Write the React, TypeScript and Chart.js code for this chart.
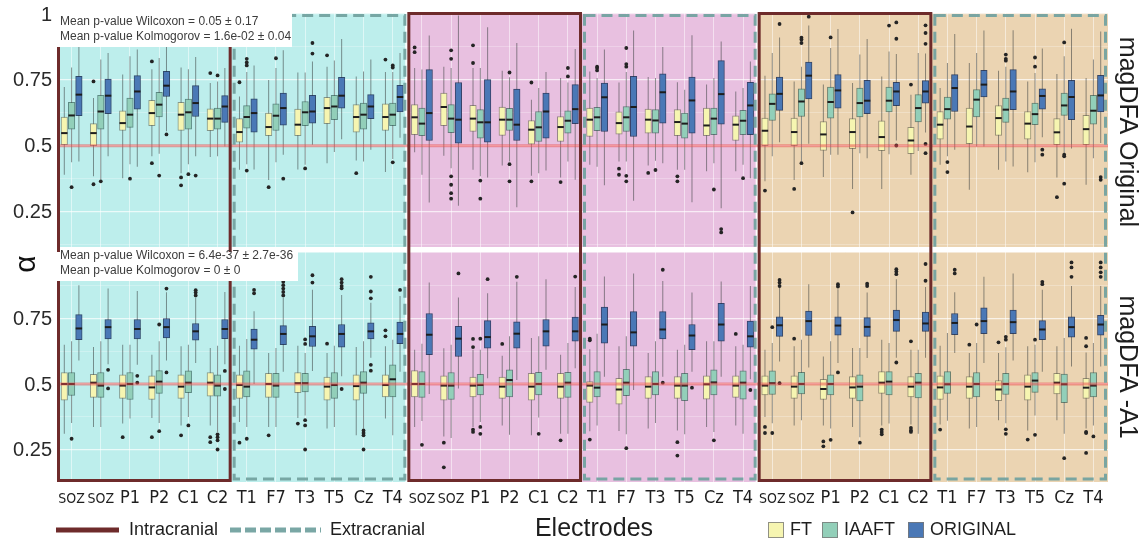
import { useEffect, useRef } from "react";
import { Chart, registerables } from "chart.js";

Chart.register(...registerables);

// ---- categories ----
const electrodeLabels = [
  "SOZ", "SOZ", "P1", "P2", "C1", "C2", "T1", "F7", "T3", "T5", "Cz", "T4",
  "SOZ", "SOZ", "P1", "P2", "C1", "C2", "T1", "F7", "T3", "T5", "Cz", "T4",
  "SOZ", "SOZ", "P1", "P2", "C1", "C2", "T1", "F7", "T3", "T5", "Cz", "T4",
];
const seriesNames = ["FT", "IAAFT", "ORIGINAL"];
const panelNames = ["magDFA Original", "magDFA -A1"];
const groupTypes = ["Intracranial", "Extracranial", "Intracranial", "Extracranial", "Intracranial", "Extracranial"];
const originalNotes = ["Mean p-value Wilcoxon = 0.05 \u00b1 0.17", "Mean p-value Kolmogorov = 1.6e-02 \u00b1 0.04"];
const a1Notes = ["Mean p-value Wilcoxon = 6.4e-37 \u00b1 2.7e-36", "Mean p-value Kolmogorov = 0 \u00b1 0"];

// ---- tick values ----
const originalTickLabels = [0.25, 0.5, 0.75, 1];
const a1TickLabels = [0.25, 0.5, 0.75];
const originalGrid = [0.125, 0.25, 0.375, 0.5, 0.625, 0.75, 0.875, 1];
const a1Grid = [0.25, 0.375, 0.5, 0.625, 0.75, 0.875, 1];

// ---- box statistics: [lower whisker, Q1, median, Q3, upper whisker] ----
const originalFT = [
  [0.39, 0.504, 0.548, 0.609, 0.723], [0.384, 0.5, 0.548, 0.584, 0.681], [0.377, 0.558, 0.586, 0.633, 0.77],
  [0.46, 0.576, 0.624, 0.672, 0.79], [0.396, 0.558, 0.618, 0.665, 0.797], [0.457, 0.557, 0.603, 0.64, 0.738],
  [0.409, 0.514, 0.552, 0.603, 0.687], [0.37, 0.538, 0.571, 0.624, 0.75], [0.41, 0.538, 0.58, 0.639, 0.778],
  [0.434, 0.584, 0.643, 0.684, 0.8], [0.444, 0.552, 0.609, 0.656, 0.763], [0.4, 0.558, 0.609, 0.659, 0.78],
  [0.475, 0.542, 0.608, 0.656, 0.795], [0.462, 0.576, 0.647, 0.7, 0.8], [0.409, 0.554, 0.603, 0.653, 0.795],
  [0.425, 0.539, 0.599, 0.647, 0.785], [0.386, 0.506, 0.561, 0.596, 0.675], [0.38, 0.516, 0.571, 0.611, 0.757],
  [0.428, 0.535, 0.599, 0.643, 0.782], [0.44, 0.544, 0.586, 0.629, 0.74], [0.425, 0.548, 0.599, 0.639, 0.761],
  [0.409, 0.538, 0.59, 0.637, 0.741], [0.403, 0.538, 0.577, 0.643, 0.732], [0.403, 0.52, 0.58, 0.614, 0.706],
  [0.365, 0.5, 0.557, 0.605, 0.766], [0.37, 0.5, 0.552, 0.605, 0.744], [0.381, 0.482, 0.543, 0.592, 0.732],
  [0.336, 0.489, 0.552, 0.603, 0.738], [0.336, 0.481, 0.533, 0.595, 0.763], [0.39, 0.47, 0.52, 0.57, 0.694],
  [0.428, 0.525, 0.58, 0.63, 0.719], [0.333, 0.508, 0.573, 0.643, 0.814], [0.409, 0.539, 0.605, 0.652, 0.785],
  [0.399, 0.525, 0.584, 0.63, 0.744], [0.38, 0.504, 0.551, 0.603, 0.772], [0.352, 0.504, 0.563, 0.615, 0.757],
];
const originalIAAFT = [
  [0.437, 0.563, 0.615, 0.665, 0.797], [0.371, 0.563, 0.63, 0.691, 0.827], [0.43, 0.57, 0.618, 0.681, 0.84],
  [0.47, 0.609, 0.656, 0.703, 0.833], [0.43, 0.563, 0.627, 0.677, 0.79], [0.46, 0.563, 0.603, 0.643, 0.744],
  [0.43, 0.567, 0.609, 0.652, 0.78], [0.437, 0.558, 0.614, 0.659, 0.795], [0.428, 0.576, 0.627, 0.668, 0.778],
  [0.476, 0.599, 0.649, 0.691, 0.824], [0.44, 0.563, 0.618, 0.662, 0.782], [0.45, 0.576, 0.618, 0.662, 0.78],
  [0.39, 0.538, 0.584, 0.643, 0.789], [0.415, 0.55, 0.603, 0.656, 0.795], [0.384, 0.529, 0.589, 0.637, 0.795],
  [0.44, 0.558, 0.599, 0.642, 0.76], [0.396, 0.516, 0.57, 0.63, 0.719], [0.44, 0.548, 0.595, 0.633, 0.74],
  [0.42, 0.557, 0.608, 0.646, 0.757], [0.44, 0.554, 0.608, 0.649, 0.78], [0.443, 0.548, 0.596, 0.637, 0.757],
  [0.409, 0.529, 0.584, 0.624, 0.713], [0.434, 0.542, 0.603, 0.643, 0.757], [0.428, 0.542, 0.595, 0.634, 0.719],
  [0.46, 0.596, 0.659, 0.697, 0.852], [0.44, 0.611, 0.668, 0.716, 0.8], [0.466, 0.605, 0.666, 0.723, 0.871],
  [0.472, 0.609, 0.662, 0.719, 0.846], [0.468, 0.628, 0.671, 0.723, 0.858], [0.48, 0.59, 0.643, 0.694, 0.852],
  [0.46, 0.601, 0.639, 0.685, 0.814], [0.497, 0.609, 0.675, 0.713, 0.852], [0.44, 0.589, 0.637, 0.681, 0.8],
  [0.437, 0.58, 0.62, 0.662, 0.776], [0.47, 0.615, 0.653, 0.7, 0.84], [0.453, 0.582, 0.633, 0.691, 0.827],
];
const originalORIG = [
  [0.44, 0.614, 0.694, 0.763, 0.877], [0.46, 0.622, 0.69, 0.753, 0.852], [0.42, 0.639, 0.706, 0.766, 0.865],
  [0.555, 0.687, 0.728, 0.782, 0.89], [0.46, 0.611, 0.662, 0.728, 0.837], [0.497, 0.589, 0.649, 0.69, 0.795],
  [0.41, 0.552, 0.624, 0.678, 0.805], [0.466, 0.578, 0.643, 0.7, 0.862], [0.504, 0.586, 0.63, 0.691, 0.82],
  [0.525, 0.643, 0.69, 0.76, 0.905], [0.485, 0.603, 0.649, 0.694, 0.827], [0.53, 0.628, 0.685, 0.729, 0.852],
  [0.285, 0.52, 0.624, 0.789, 0.918], [0.272, 0.51, 0.599, 0.74, 0.994], [0.38, 0.514, 0.589, 0.751, 0.95],
  [0.267, 0.52, 0.58, 0.715, 0.89], [0.406, 0.529, 0.63, 0.7, 0.78], [0.371, 0.584, 0.639, 0.732, 0.867],
  [0.35, 0.554, 0.684, 0.738, 0.865], [0.291, 0.535, 0.647, 0.763, 0.937], [0.434, 0.586, 0.703, 0.773, 0.875],
  [0.286, 0.548, 0.672, 0.761, 0.919], [0.263, 0.582, 0.696, 0.823, 0.896], [0.377, 0.542, 0.653, 0.741, 0.82],
  [0.513, 0.634, 0.697, 0.761, 0.911], [0.508, 0.678, 0.766, 0.818, 0.956], [0.466, 0.643, 0.71, 0.77, 0.943],
  [0.453, 0.622, 0.671, 0.748, 0.905], [0.52, 0.652, 0.706, 0.741, 0.848], [0.55, 0.662, 0.706, 0.747, 0.85],
  [0.485, 0.63, 0.719, 0.77, 0.924], [0.497, 0.685, 0.732, 0.786, 0.937], [0.421, 0.637, 0.706, 0.789, 0.938],
  [0.532, 0.639, 0.689, 0.716, 0.869], [0.49, 0.599, 0.685, 0.748, 0.944], [0.51, 0.628, 0.691, 0.767, 0.934],
];

const a1FT = [
  [0.31, 0.438, 0.5, 0.544, 0.65], [0.336, 0.449, 0.505, 0.537, 0.641], [0.349, 0.445, 0.494, 0.535, 0.65],
  [0.37, 0.441, 0.487, 0.531, 0.612], [0.342, 0.445, 0.49, 0.535, 0.644], [0.342, 0.454, 0.505, 0.544, 0.637],
  [0.355, 0.445, 0.496, 0.535, 0.646], [0.336, 0.449, 0.5, 0.541, 0.618], [0.37, 0.467, 0.503, 0.544, 0.646],
  [0.33, 0.438, 0.49, 0.526, 0.618], [0.304, 0.438, 0.492, 0.535, 0.641], [0.368, 0.451, 0.496, 0.535, 0.644],
  [0.336, 0.451, 0.5, 0.551, 0.631], [0.3, 0.438, 0.494, 0.531, 0.636], [0.336, 0.451, 0.494, 0.526, 0.631],
  [0.342, 0.445, 0.49, 0.526, 0.608], [0.304, 0.438, 0.49, 0.541, 0.676], [0.31, 0.445, 0.49, 0.541, 0.612],
  [0.32, 0.43, 0.494, 0.509, 0.633], [0.321, 0.423, 0.479, 0.522, 0.644], [0.33, 0.445, 0.49, 0.528, 0.618],
  [0.323, 0.445, 0.494, 0.528, 0.631], [0.336, 0.442, 0.499, 0.531, 0.663], [0.342, 0.449, 0.494, 0.531, 0.644],
  [0.374, 0.458, 0.494, 0.531, 0.631], [0.342, 0.445, 0.49, 0.531, 0.644], [0.342, 0.441, 0.481, 0.518, 0.605],
  [0.336, 0.445, 0.487, 0.528, 0.637], [0.342, 0.464, 0.505, 0.547, 0.669], [0.345, 0.451, 0.49, 0.528, 0.631],
  [0.345, 0.441, 0.487, 0.531, 0.646], [0.33, 0.445, 0.49, 0.528, 0.618], [0.362, 0.436, 0.479, 0.513, 0.618],
  [0.323, 0.438, 0.49, 0.535, 0.644], [0.362, 0.462, 0.505, 0.541, 0.644], [0.33, 0.445, 0.486, 0.522, 0.62],
];
const a1IAAFT = [
  [0.351, 0.456, 0.5, 0.544, 0.663], [0.336, 0.449, 0.494, 0.544, 0.663], [0.368, 0.441, 0.5, 0.544, 0.65],
  [0.351, 0.464, 0.509, 0.551, 0.663], [0.374, 0.467, 0.505, 0.55, 0.65], [0.317, 0.454, 0.494, 0.535, 0.646],
  [0.336, 0.451, 0.49, 0.55, 0.672], [0.336, 0.449, 0.494, 0.541, 0.637], [0.38, 0.47, 0.503, 0.541, 0.618],
  [0.336, 0.445, 0.496, 0.544, 0.646], [0.33, 0.464, 0.505, 0.547, 0.663], [0.304, 0.451, 0.518, 0.573, 0.669],
  [0.359, 0.449, 0.5, 0.547, 0.654], [0.294, 0.441, 0.494, 0.544, 0.65], [0.355, 0.458, 0.496, 0.537, 0.631],
  [0.306, 0.451, 0.515, 0.554, 0.682], [0.372, 0.458, 0.5, 0.545, 0.682], [0.31, 0.449, 0.505, 0.545, 0.656],
  [0.342, 0.451, 0.486, 0.547, 0.692], [0.308, 0.455, 0.505, 0.556, 0.682], [0.351, 0.458, 0.5, 0.547, 0.663],
  [0.308, 0.436, 0.494, 0.541, 0.65], [0.317, 0.458, 0.506, 0.554, 0.663], [0.31, 0.442, 0.505, 0.55, 0.65],
  [0.35, 0.46, 0.503, 0.55, 0.656], [0.362, 0.462, 0.5, 0.545, 0.669], [0.33, 0.458, 0.5, 0.535, 0.663],
  [0.297, 0.435, 0.49, 0.535, 0.637], [0.349, 0.458, 0.509, 0.547, 0.656], [0.31, 0.447, 0.505, 0.541, 0.631],
  [0.36, 0.464, 0.499, 0.547, 0.695], [0.336, 0.451, 0.5, 0.544, 0.656], [0.35, 0.46, 0.5, 0.541, 0.64],
  [0.38, 0.468, 0.513, 0.544, 0.65], [0.31, 0.429, 0.499, 0.538, 0.676], [0.342, 0.451, 0.494, 0.544, 0.656],
];
const a1ORIG = [
  [0.59, 0.669, 0.712, 0.765, 0.877], [0.575, 0.672, 0.717, 0.746, 0.864], [0.573, 0.672, 0.71, 0.746, 0.855],
  [0.59, 0.676, 0.717, 0.75, 0.85], [0.58, 0.667, 0.701, 0.731, 0.83], [0.575, 0.673, 0.71, 0.746, 0.851],
  [0.5, 0.633, 0.669, 0.71, 0.778], [0.547, 0.65, 0.691, 0.723, 0.83], [0.55, 0.643, 0.682, 0.72, 0.86],
  [0.53, 0.641, 0.691, 0.727, 0.84], [0.6, 0.672, 0.701, 0.733, 0.81], [0.547, 0.654, 0.691, 0.736, 0.836],
  [0.462, 0.612, 0.688, 0.769, 0.887], [0.483, 0.605, 0.673, 0.72, 0.83], [0.522, 0.637, 0.679, 0.742, 0.846],
  [0.515, 0.637, 0.692, 0.737, 0.89], [0.554, 0.644, 0.701, 0.746, 0.9], [0.56, 0.663, 0.701, 0.755, 0.87],
  [0.528, 0.656, 0.727, 0.794, 0.91], [0.477, 0.644, 0.697, 0.776, 0.922], [0.528, 0.672, 0.708, 0.776, 0.893],
  [0.547, 0.631, 0.685, 0.727, 0.849], [0.528, 0.663, 0.727, 0.808, 0.891], [0.518, 0.641, 0.682, 0.74, 0.874],
  [0.586, 0.682, 0.724, 0.756, 0.868], [0.563, 0.685, 0.74, 0.778, 0.881], [0.58, 0.686, 0.723, 0.756, 0.862],
  [0.599, 0.682, 0.718, 0.753, 0.849], [0.6, 0.701, 0.744, 0.782, 0.9], [0.6, 0.701, 0.731, 0.774, 0.87],
  [0.618, 0.688, 0.733, 0.769, 0.85], [0.58, 0.692, 0.74, 0.791, 0.909], [0.59, 0.692, 0.736, 0.782, 0.922],
  [0.547, 0.669, 0.708, 0.742, 0.86], [0.567, 0.679, 0.717, 0.756, 0.874], [0.567, 0.686, 0.727, 0.762, 0.874],
];

// ---- outliers per electrode ----
const originalFTOut = [
  [], [0.744, 0.354], [], [0.82, 0.434], [0.38, 0.35], [0.776],
  [0.741], [0.343], [], [0.843], [0.396], [0.827],
  [0.873, 0.855], [], [0.881, 0.814], [], [0.74, 0.365], [0.362],
  [], [0.413, 0.39], [0.397], [0.384, 0.365], [], [],
  [0.33], [0.336], [], [0.247], [], [0.732],
  [], [], [], [], [0.305], [],
];
const originalIAAFTOut = [
  [0.343], [0.365], [0.375], [0.387], [0.392], [0.767],
  [0.83, 0.816, 0.805, 0.406], [0.832], [0.414], [], [], [0.805, 0.797, 0.437],
  [], [0.862, 0.83, 0.384, 0.352, 0.32, 0.299], [0.368, 0.299], [0.778, 0.43, 0.365], [], [0.795, 0.763],
  [0.8, 0.795, 0.786], [0.871, 0.81, 0.8, 0.386, 0.365], [0.408], [], [0.334], [0.377],
  [], [0.91, 0.903, 0.89, 0.434], [0.911], [], [0.956], [],
  [0.438, 0.4], [], [0.846, 0.83, 0.823], [0.835, 0.8], [0.892, 0.466, 0.46, 0.356], [],
];
const originalORIGOut = [
  [], [], [], [0.543], [0.387], [],
  [], [0.375], [0.89, 0.85], [], [], [],
  [], [], [], [], [], [],
  [], [], [], [], [0.184, 0.171], [],
  [0.962], [0.99], [], [], [0.968, 0.906, 0.501], [0.957, 0.928, 0.887, 0.507, 0.472],
  [], [], [], [0.485, 0.466], [], [0.381, 0.371],
];
const a1FTOut = [
  [], [], [0.297], [0.297], [0.304], [0.297, 0.278],
  [0.276], [0.304], [0.349], [0.654], [], [0.705, 0.682],
  [], [0.276, 0.182], [0.672, 0.641, 0.326, 0.317], [0.653], [], [0.285],
  [0.673, 0.667, 0.288], [], [], [0.278, 0.227], [], [0.691],
  [0.336, 0.313], [0.673], [0.281, 0.262], [], [0.326, 0.317, 0.308], [0.663, 0.332, 0.323, 0.317],
  [0.326], [0.65], [0.659], [0.288], [], [0.676, 0.644, 0.317, 0.313, 0.237],
];
const a1IAAFTOut = [
  [0.291], [], [], [0.727, 0.32], [0.342], [0.308, 0.297, 0.285, 0.25],
  [0.291], [], [0.67, 0.653, 0.362, 0.342, 0.25], [], [0.323, 0.313, 0.304, 0.25], [],
  [0.268], [], [0.673, 0.336, 0.31], [], [0.31], [],
  [], [0.255], [], [], [0.285], [],
  [0.717, 0.313], [], [0.287], [0.276], [], [],
  [], [0.727], [0.68, 0.669, 0.327, 0.31], [0.669, 0.306], [0.217], [0.3],
];
const a1ORIGOut = [
  [], [0.554, 0.483], [0.531, 0.505], [0.864, 0.544], [0.858, 0.849, 0.838], [0.55, 0.481],
  [0.859, 0.846], [0.89, 0.877, 0.864, 0.851, 0.838], [0.915, 0.887], [0.9, 0.887, 0.874, 0.865, 0.481], [0.909, 0.853, 0.827, 0.573, 0.551], [0.859],
  [], [0.922], [0.9], [0.909], [], [0.91],
  [], [], [0.936, 0.505], [0.486], [], [0.477],
  [0.897, 0.887, 0.874, 0.503], [], [0.881, 0.872, 0.544], [0.883, 0.874], [0.938, 0.929, 0.919, 0.582], [0.958, 0.894],
  [0.936, 0.922], [], [], [0.89, 0.881], [0.964, 0.945, 0.909], [0.964, 0.945, 0.926, 0.909],
];

// ---- styling ----
const SANS = '"Liberation Sans", Arial, Helvetica, sans-serif';
const NARROW = '"Liberation Sans Narrow", "Arial Narrow", "DejaVu Sans Condensed", "Liberation Sans", sans-serif';
const BLOCK_FILLS = ["#bdeeec", "#e8c0e0", "#ebd4b2"];
const SERIES_FILLS = ["#f6f5b1", "#92cfb9", "#4a78b6"];
const SERIES_EDGES = ["rgba(95,95,75,0.6)", "rgba(40,85,75,0.65)", "rgba(25,45,85,0.85)"];
const WHISKER = "rgba(55,60,60,0.55)";
const INTRA_COLOR = "#6e2b2b";
const EXTRA_COLOR = "rgba(115,162,160,0.95)";
const REF_LINE = "rgba(236,72,72,0.5)";
const SHIFT = 0.25; // horizontal offset of each series within an electrode, in category units

function panelDatasets(axis: string, boxes: number[][][], outliers: number[][][]) {
  const sets: any[] = [];
  boxes.forEach((stats, k) => {
    const shift = (k - 1) * SHIFT;
    sets.push({
      type: "bar", label: seriesNames[k], xAxisID: "xl", yAxisID: axis, grouped: false,
      data: stats.map((b, i) => ({ x: i + shift, y: [b[1], b[3]] })),
      backgroundColor: SERIES_FILLS[k], borderColor: SERIES_EDGES[k], borderWidth: 1, borderSkipped: false,
      barThickness: 6.5, order: 2,
    });
    sets.push({
      type: "bar", label: seriesNames[k] + " range", xAxisID: "xl", yAxisID: axis, grouped: false,
      data: stats.map((b, i) => ({ x: i + shift, y: [b[0], b[4]] })),
      backgroundColor: WHISKER, borderWidth: 0, barThickness: 1, inflateAmount: 0, order: 3,
    });
    sets.push({
      type: "scatter", label: seriesNames[k] + " median", xAxisID: "xl", yAxisID: axis,
      data: stats.map((b, i) => ({ x: i + shift, y: b[2] })),
      pointStyle: "line", pointRadius: 3.2, pointBorderWidth: 2, pointBorderColor: "#1d1d1d", order: 1,
    });
    sets.push({
      type: "scatter", label: seriesNames[k] + " outliers", xAxisID: "xl", yAxisID: axis,
      data: outliers[k].flatMap((vals, i) => vals.map((v) => ({ x: i + shift, y: v }))),
      pointStyle: "circle", pointRadius: 1.9, pointBorderWidth: 0, pointBackgroundColor: "#242424", order: 0,
    });
  });
  return sets;
}

function panelAxis(min: number, max: number, weight: number, gridValues: number[], labelled: number[]) {
  return {
    type: "linear", position: "left", stack: "panels", stackWeight: weight, stacked: false,
    min, max, beginAtZero: false,
    afterBuildTicks: (s: any) => { s.ticks = gridValues.map((v) => ({ value: v })); },
    afterFit: (s: any) => { s.width = 57; },
    border: { display: false },
    grid: {
      drawTicks: false,
      color: (c: any) => (labelled.includes(c.tick.value) || c.tick.value === 1 ? "rgba(255,255,255,0.7)" : "rgba(255,255,255,0.38)"),
      lineWidth: (c: any) => (labelled.includes(c.tick.value) ? 1.2 : 0.7),
    },
    ticks: { display: false },
  };
}

const panelDecor = {
  id: "panelDecor",
  beforeDraw(chart: any) {
    const { ctx } = chart;
    const xl = chart.scales.xl;
    const panels = [chart.scales.yOrig, chart.scales.yA1];
    ctx.save();
    panels.forEach((s: any, p: number) => {
      const top = p === 0 ? s.top + 1 : s.top + 4;
      const bottom = p === 0 ? s.bottom - 1 : s.bottom;
      BLOCK_FILLS.forEach((fill, b) => {
        const left = xl.getPixelForValue(12 * b - 0.5) + (b > 0 ? 1.5 : 0);
        const right = xl.getPixelForValue(12 * b + 11.5) - (b < 2 ? 2 : 0);
        ctx.fillStyle = fill;
        ctx.fillRect(left, top, right - left, bottom - top);
      });
    });
    ctx.restore();
  },
  afterDatasetsDraw(chart: any) {
    const { ctx, chartArea } = chart;
    const xl = chart.scales.xl;
    const panels = [chart.scales.yOrig, chart.scales.yA1];
    ctx.save();
    // alpha = 0.5 reference line in both panels
    ctx.strokeStyle = REF_LINE;
    ctx.lineWidth = 3;
    panels.forEach((s: any) => {
      const y = s.getPixelForValue(0.5);
      ctx.beginPath();
      ctx.moveTo(chartArea.left, y);
      ctx.lineTo(chartArea.right, y);
      ctx.stroke();
    });
    // electrode-group frames spanning both panels
    groupTypes.forEach((kind, g) => {
      const x0 = xl.getPixelForValue(6 * g - 0.5);
      const x1 = xl.getPixelForValue(6 * g + 5.5);
      ctx.lineWidth = 3;
      if (kind === "Intracranial") {
        ctx.setLineDash([]);
        ctx.strokeStyle = INTRA_COLOR;
        ctx.strokeRect(x0 + 1.5, chartArea.top + 1.5, x1 - x0 - 3.5, chartArea.bottom - chartArea.top - 3);
      } else {
        ctx.setLineDash([11, 6]);
        ctx.strokeStyle = EXTRA_COLOR;
        ctx.strokeRect(x0 + 2, chartArea.top + 3.5, x1 - x0 - 4.5, chartArea.bottom - chartArea.top - 6.5);
      }
    });
    ctx.setLineDash([]);
    // test statistics boxes
    const notes = [
      { lines: originalNotes, top: panels[0].top - 12, bottom: panels[0].top + 35, width: 235, first: panels[0].top + 10 },
      { lines: a1Notes, top: panels[1].top + 4, bottom: panels[1].top + 33, width: 241, first: panels[1].top + 8 },
    ];
    notes.forEach((n) => {
      ctx.fillStyle = "#ffffff";
      ctx.fillRect(chartArea.left, n.top, n.width, n.bottom - n.top);
      ctx.fillStyle = "#3c3c3c";
      ctx.font = `12px ${SANS}`;
      ctx.textAlign = "left";
      ctx.textBaseline = "middle";
      n.lines.forEach((t, i) => ctx.fillText(t, chartArea.left + 3, n.first + i * 15));
    });
    ctx.restore();
  },
  afterDraw(chart: any) {
    const { ctx, chartArea } = chart;
    const xl = chart.scales.xl;
    const panels = [chart.scales.yOrig, chart.scales.yA1];
    ctx.save();
    // y tick labels
    ctx.fillStyle = "#2a2a2a";
    ctx.font = `20px ${SANS}`;
    ctx.textAlign = "right";
    ctx.textBaseline = "middle";
    [originalTickLabels, a1TickLabels].forEach((vals, p) => {
      vals.forEach((v) => ctx.fillText(String(v), chartArea.left - 5, panels[p].getPixelForValue(v) + 1));
    });
    // electrode labels
    ctx.fillStyle = "#1e1e1e";
    ctx.textAlign = "center";
    ctx.textBaseline = "alphabetic";
    electrodeLabels.forEach((lab, i) => {
      ctx.font = lab === "SOZ" ? `14px ${NARROW}` : `18px ${NARROW}`;
      ctx.fillText(lab, xl.getPixelForValue(i), chartArea.bottom + 21);
    });
    // y-axis title
    ctx.save();
    ctx.translate(27, (chartArea.top + chartArea.bottom) / 2 + 17);
    ctx.rotate(-Math.PI / 2);
    ctx.font = `30px ${SANS}`;
    ctx.textAlign = "center";
    ctx.textBaseline = "middle";
    ctx.fillStyle = "#111";
    ctx.fillText("\u03b1", 0, 0);
    ctx.restore();
    // panel strip titles
    panelNames.forEach((name, p) => {
      const s = panels[p];
      ctx.save();
      ctx.translate(chartArea.right + 19, (s.top + s.bottom) / 2 + 2);
      ctx.rotate(Math.PI / 2);
      ctx.font = `25px ${SANS}`;
      ctx.textAlign = "center";
      ctx.textBaseline = "middle";
      ctx.fillStyle = "#1e1e1e";
      ctx.fillText(name, 0, 0);
      ctx.restore();
    });
    // bottom legend
    const ly = chartArea.bottom + 48;
    ctx.lineWidth = 5;
    ctx.strokeStyle = INTRA_COLOR;
    ctx.beginPath();
    ctx.moveTo(56, ly);
    ctx.lineTo(119, ly);
    ctx.stroke();
    ctx.setLineDash([11, 4]);
    ctx.strokeStyle = EXTRA_COLOR;
    ctx.beginPath();
    ctx.moveTo(230, ly);
    ctx.lineTo(321, ly);
    ctx.stroke();
    ctx.setLineDash([]);
    ctx.fillStyle = "#1e1e1e";
    ctx.textAlign = "left";
    ctx.textBaseline = "middle";
    ctx.font = `18px ${SANS}`;
    ctx.fillText(groupTypes[0], 129, ly);
    ctx.fillText(groupTypes[1], 330, ly);
    ctx.font = `25px ${SANS}`;
    ctx.textAlign = "center";
    ctx.fillText("Electrodes", 594, ly - 1);
    ctx.textAlign = "left";
    ctx.font = `18px ${SANS}`;
    const swatchX = [768, 822, 908];
    seriesNames.forEach((name, k) => {
      ctx.fillStyle = SERIES_FILLS[k];
      ctx.fillRect(swatchX[k], ly - 8, 16, 16);
      ctx.strokeStyle = "rgba(120,120,120,0.8)";
      ctx.lineWidth = 1;
      ctx.strokeRect(swatchX[k] + 0.5, ly - 7.5, 15, 15);
      ctx.fillStyle = "#1e1e1e";
      ctx.fillText(name, swatchX[k] + 22, ly);
    });
    ctx.restore();
  },
};

export default function App() {
  const canvasRef = useRef<HTMLCanvasElement>(null);

  useEffect(() => {
    const canvas = canvasRef.current;
    if (!canvas) return;
    const chart = new Chart(canvas, {
      type: "bar",
      data: {
        labels: electrodeLabels,
        datasets: [
          ...panelDatasets("yOrig", [originalFT, originalIAAFT, originalORIG], [originalFTOut, originalIAAFTOut, originalORIGOut]),
          ...panelDatasets("yA1", [a1FT, a1IAAFT, a1ORIG], [a1FTOut, a1IAAFTOut, a1ORIGOut]),
        ] as any,
      },
      options: {
        responsive: false,
        animation: false,
        devicePixelRatio: 1,
        events: [],
        layout: { padding: { left: 0, right: 36, top: 12, bottom: 0 } },
        plugins: { legend: { display: false }, tooltip: { enabled: false } },
        scales: {
          x: {
            type: "category", labels: electrodeLabels, offset: true,
            grid: { offset: false, drawTicks: false, color: "rgba(255,255,255,0.5)", lineWidth: 1 },
            border: { display: false },
            ticks: { display: false, autoSkip: false },
            afterFit: (s: any) => { s.height = 60; },
          },
          xl: { type: "linear", display: false, offset: false, grid: { offset: false }, min: -0.5, max: 35.5 },
          yA1: panelAxis(0.126, 1.019, 234, a1Grid, a1TickLabels),
          yOrig: panelAxis(0.112, 1.0076, 236, originalGrid, originalTickLabels),
        } as any,
      },
      plugins: [panelDecor],
    });
    return () => chart.destroy();
  }, []);

  return (
    <div style={{ position: "fixed", left: 0, top: 0, width: 1144, height: 542, background: "#ffffff" }}>
      <canvas ref={canvasRef} width={1144} height={542} style={{ display: "block", width: 1144, height: 542 }} />
    </div>
  );
}
